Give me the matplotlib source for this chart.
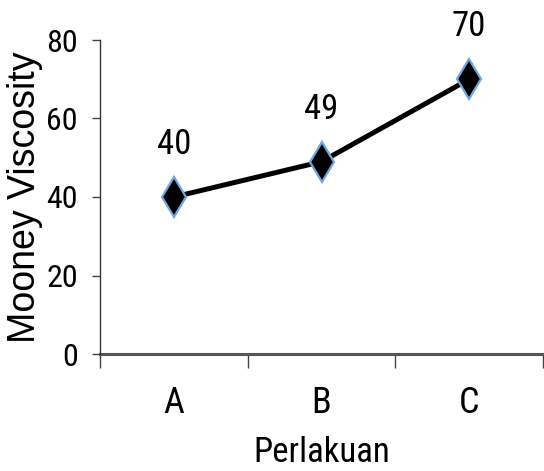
import matplotlib
matplotlib.use("Agg")
import matplotlib.pyplot as plt
from matplotlib import font_manager
from matplotlib.ticker import FixedLocator

# data
perlakuan = ["A", "B", "C"]
viscosity = [40, 49, 70]
y_ticks = [0, 20, 40, 60, 80]

# the reference text is a squeezed Arial, so look for any narrow face first
installed = {f.name for f in font_manager.fontManager.ttflist}
narrow_faces = ["Liberation Sans Narrow", "Arial Narrow", "Roboto Condensed",
                "Open Sans Condensed", "Noto Sans Condensed", "DejaVu Sans Condensed"]
found = [n for n in narrow_faces if n in installed]
if found:
    NARROW = [found[0], "DejaVu Sans"]
    fs_tick, fs_cat, fs_val = 23, 26, 25
else:
    NARROW = ["Liberation Sans", "DejaVu Sans"]
    fs_tick, fs_cat, fs_val = 20, 22, 21
REGULAR = ["Liberation Sans", "DejaVu Sans"]

fig = plt.figure(figsize=(5.44, 4.71), dpi=100)
ax = fig.add_axes([100 / 544, 1 - 354 / 471, 443 / 544, 314 / 471])

xs = list(range(len(perlakuan)))
ax.plot(xs, viscosity, color="black", lw=3.6, zorder=3,
        marker="d", markersize=20, markerfacecolor="black",
        markeredgecolor="#6fa8dc", markeredgewidth=1.6)

for x, v in zip(xs, viscosity):
    ax.annotate(str(v), (x, v), xytext=(0, 26), textcoords="offset points",
                ha="center", va="bottom", fontsize=fs_val, family=NARROW)

ax.set_xlim(-0.5, len(perlakuan) - 0.5)
ax.set_ylim(0, 80)
ax.set_yticks(y_ticks)
ax.set_yticklabels([str(t) for t in y_ticks], family=NARROW, fontsize=fs_tick)
ax.set_xticks(xs)
ax.set_xticklabels(perlakuan, family=NARROW, fontsize=fs_cat)
ax.xaxis.set_minor_locator(FixedLocator([i - 0.5 for i in range(len(perlakuan) + 1)]))

ax.tick_params(axis="x", which="major", length=0, pad=22)
ax.tick_params(axis="x", which="minor", length=10, width=1.0, color="#444444", direction="out")
ax.tick_params(axis="y", length=6, width=1.0, color="#444444", direction="out", pad=10)

for side in ["top", "right"]:
    ax.spines[side].set_visible(False)
ax.spines["left"].set_color("#333333")
ax.spines["left"].set_linewidth(1.0)
ax.spines["bottom"].set_color("#555555")
ax.spines["bottom"].set_linewidth(2.2)
ax.spines["bottom"].set_zorder(2)

ax.set_xlabel("Perlakuan", family=NARROW, fontsize=25, labelpad=11)
ax.set_ylabel("Mooney Viscosity", family=REGULAR, fontsize=27, labelpad=2)

fig.savefig("out.png", dpi=100)
